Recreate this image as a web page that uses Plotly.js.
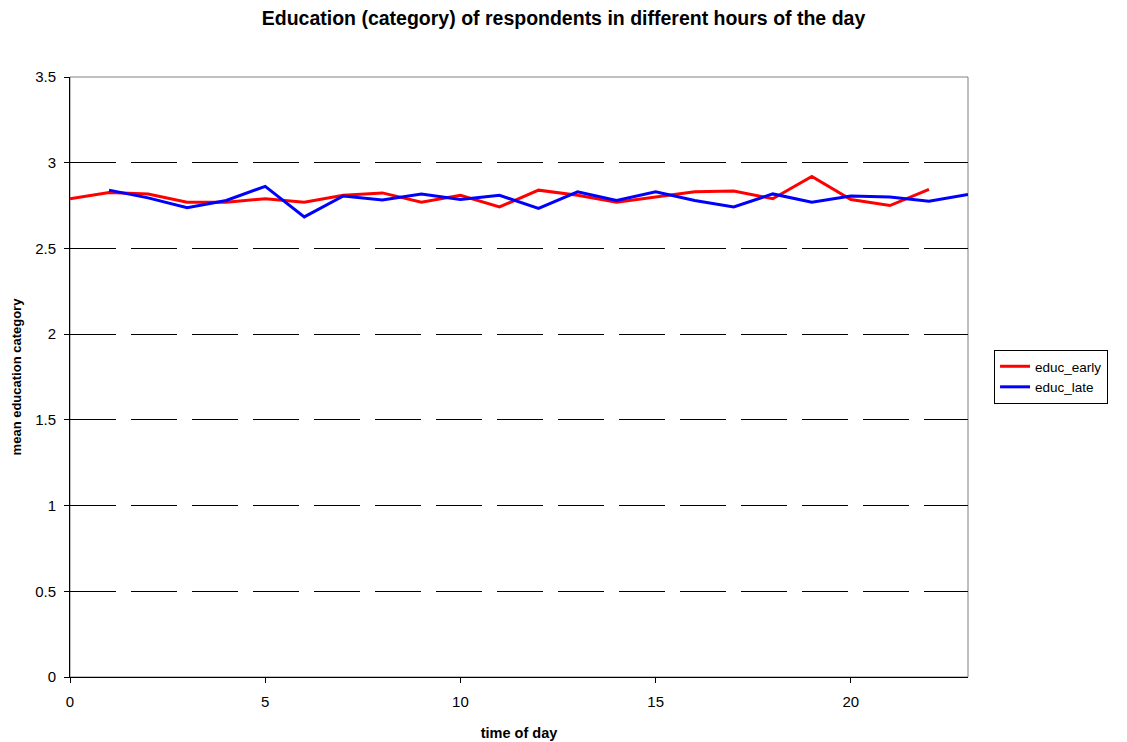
<!DOCTYPE html>
<html>
<head>
<meta charset="utf-8">
<script src="https://cdn.plot.ly/plotly-3.0.1.min.js"></script>
<style>
  html, body { margin: 0; padding: 0; background: #fff; }
  #chart { width: 1127px; height: 742px; }
</style>
</head>
<body>
<div id="chart"></div>
<script>
// Hours of the day
const hoursEarly = [0, 1, 2, 3, 4, 5, 6, 7, 8, 9, 10, 11, 12, 13, 14, 15, 16, 17, 18, 19, 20, 21, 22];
const hoursLate  = [1, 2, 3, 4, 5, 6, 7, 8, 9, 10, 11, 12, 13, 14, 15, 16, 17, 18, 19, 20, 21, 22, 23];

// Mean education category per hour
const educEarly = [2.79, 2.826, 2.818, 2.77, 2.77, 2.79, 2.77, 2.81, 2.824, 2.77, 2.81, 2.742,
                   2.84, 2.81, 2.77, 2.80, 2.83, 2.835, 2.79, 2.92, 2.785, 2.75, 2.845];
const educLate  = [2.84, 2.795, 2.737, 2.78, 2.862, 2.684, 2.806, 2.783, 2.818, 2.785, 2.81, 2.733,
                   2.83, 2.78, 2.83, 2.78, 2.742, 2.818, 2.77, 2.806, 2.80, 2.775, 2.814];

const xTicks = [0, 5, 10, 15, 20];
const yTicks = [0, 0.5, 1, 1.5, 2, 2.5, 3, 3.5];

const font = 'Liberation Sans, Arial, sans-serif';

const traces = [
  { x: hoursEarly, y: educEarly, name: 'educ_early', type: 'scatter', mode: 'lines',
    line: { color: '#ff0000', width: 3 } },
  { x: hoursLate, y: educLate, name: 'educ_late', type: 'scatter', mode: 'lines',
    line: { color: '#0000ff', width: 3 } }
];

const layout = {
  width: 1127, height: 742,
  margin: { l: 70, r: 159, t: 77, b: 65 },
  paper_bgcolor: '#fff', plot_bgcolor: '#fff',
  font: { family: font, size: 13, color: '#000' },
  title: {
    text: '<b>Education (category) of respondents in different hours of the day</b>',
    font: { family: font, size: 19.5, color: '#000' },
    x: 0.5, xanchor: 'center', y: 0.975, yanchor: 'middle'
  },
  xaxis: {
    range: [0, 23], tickvals: xTicks, ticktext: xTicks.map(String),
    showgrid: false, zeroline: false,
    showline: true, linecolor: '#000', linewidth: 1,
    ticks: 'outside', ticklen: 5, tickcolor: '#000',
    ticklabelstandoff: 6,
    tickfont: { family: font, size: 15 },
    title: { text: '<b>time of day</b>', font: { family: font, size: 14.5 }, standoff: 18 }
  },
  yaxis: {
    range: [0, 3.5], tickvals: yTicks, ticktext: yTicks.map(String),
    showgrid: true, gridcolor: '#000', gridwidth: 1, griddash: '46px,15px',
    zeroline: false,
    showline: true, linecolor: '#000', linewidth: 1,
    ticks: 'outside', ticklen: 5, tickcolor: '#000',
    ticklabelstandoff: 5,
    tickfont: { family: font, size: 15 },
    title: { text: '<b>mean education category</b>', font: { family: font, size: 13 }, standoff: 10 }
  },
  legend: {
    x: 1.029, xanchor: 'left', y: 0.5, yanchor: 'middle',
    bordercolor: '#000', borderwidth: 1, bgcolor: '#fff',
    font: { family: font, size: 13.5 },
    tracegroupgap: 0, itemwidth: 30
  },
  shapes: [
    { type: 'rect', xref: 'paper', yref: 'paper', x0: 0, x1: 1, y0: 0, y1: 1,
      line: { color: '#808080', width: 1 }, layer: 'below' }
  ]
};

Plotly.newPlot('chart', traces, layout, { displayModeBar: false, staticPlot: true });
</script>
</body>
</html>
